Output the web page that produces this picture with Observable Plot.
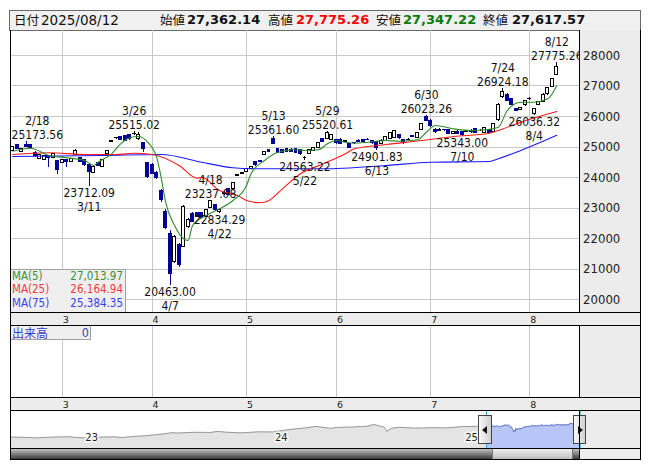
<!DOCTYPE html>
<html><head><meta charset="utf-8">
<script src="https://cdn.jsdelivr.net/npm/d3@7"></script>
<script src="https://cdn.jsdelivr.net/npm/@observablehq/plot@0.6"></script>
<style>
body{margin:0;background:#fff;}
#root{position:relative;width:653px;height:470px;overflow:hidden;font-family:"DejaVu Sans Condensed","Liberation Sans",sans-serif;}
#root > *{position:absolute;}
.hl{font-family:"Noto Sans CJK JP",sans-serif;font-size:12.5px;color:#111;}
.hv{font-family:"DejaVu Sans",sans-serif;font-size:13px;font-weight:bold;}
</style></head><body><div id="root"></div>
<script>
// ---------------- data ----------------
const dates = ["2025-02-13","2025-02-14","2025-02-17","2025-02-18","2025-02-19","2025-02-20","2025-02-21","2025-02-25","2025-02-26","2025-02-27","2025-02-28",
"2025-03-03","2025-03-04","2025-03-05","2025-03-06","2025-03-07","2025-03-10","2025-03-11","2025-03-12","2025-03-13","2025-03-14","2025-03-17","2025-03-18","2025-03-19","2025-03-21","2025-03-24","2025-03-25","2025-03-26","2025-03-27","2025-03-28","2025-03-31",
"2025-04-01","2025-04-02","2025-04-03","2025-04-04","2025-04-07","2025-04-08","2025-04-09","2025-04-10","2025-04-11","2025-04-14","2025-04-15","2025-04-16","2025-04-17","2025-04-18","2025-04-21","2025-04-22","2025-04-23","2025-04-24","2025-04-25","2025-04-28","2025-04-30",
"2025-05-01","2025-05-02","2025-05-07","2025-05-08","2025-05-09","2025-05-12","2025-05-13","2025-05-14","2025-05-15","2025-05-16","2025-05-19","2025-05-20","2025-05-21","2025-05-22","2025-05-23","2025-05-26","2025-05-27","2025-05-28","2025-05-29","2025-05-30",
"2025-06-02","2025-06-03","2025-06-04","2025-06-05","2025-06-06","2025-06-09","2025-06-10","2025-06-11","2025-06-12","2025-06-13","2025-06-16","2025-06-17","2025-06-18","2025-06-19","2025-06-20","2025-06-23","2025-06-24","2025-06-25","2025-06-26","2025-06-27","2025-06-30",
"2025-07-01","2025-07-02","2025-07-03","2025-07-04","2025-07-07","2025-07-08","2025-07-09","2025-07-10","2025-07-11","2025-07-14","2025-07-15","2025-07-16","2025-07-17","2025-07-18","2025-07-22","2025-07-23","2025-07-24","2025-07-25","2025-07-28","2025-07-29","2025-07-30","2025-07-31",
"2025-08-01","2025-08-04","2025-08-05","2025-08-06","2025-08-07","2025-08-08","2025-08-12"];

const opens = [24866,25073,24855,25063,25052,24812,24615,24583,24692,24648,24539,
24484,24583,24506,24746,24648,24561,24400,24150,24470,24343,24779,25180,25290,25320,25360,25380,25420,25250,25140,24485,
24398,24147,23547,22889,22161,21234,21780,21725,22380,22816,22848,22848,22707,23001,23089,22860,23470,23634,23634,24050,24130,
24178,24289,24505,24530,24747,24911,25271,24943,24890,24943,24900,24943,24900,24640,24780,24867,24976,25270,25270,25238,
25238,25238,25180,25107,25130,25215,25240,25240,25215,25160,25107,25200,25270,25300,25410,25238,25230,25350,25300,25565,25980,
25870,25560,25540,25560,25560,25430,25510,25480,25510,25530,25600,25540,25470,25560,25490,25871,26634,26711,26580,26252,26210,26362,
26570,26067,26394,26470,26722,26962,27362.14];
const highs = [25020,25100,24965,25173.56,25090,24850,24770,24720,24720,24800,24560,
24580,24600,24610,24910,24660,24580,24440,24380,24500,24600,24900,25230,25330,25360,25380,25420,25515.02,25467,25150,24510,
24460,24200,23600,22950,22270,22100,21850,23089,22650,22850,22870,22860,22940,23237.08,23110,22960,23560,23660,23840,24100,24170,
24300,24380,24540,24560,24850,24930,25361.60,24960,24910,24960,24950,24960,24920,24700,24900,24990,25150,25290,25520.61,25420,
25260,25270,25200,25120,25150,25240,25260,25270,25230,25180,25250,25330,25470,25530,25420,25250,25270,25380,25470,25780,26023.26,
25900,25600,25600,25590,25580,25520,25530,25500,25540,25560,25620,25560,25640,25580,25780,26420,26924.18,26740,26600,26270,26300,26520,
26620,26270,26490,26740,26960,27250,27775.26];
const lows = [24840,24930,24840,24980,24960,24650,24600,24560,24343,24630,24103,
24470,24343,24490,24730,24490,24380,23712.09,24130,24350,24330,24770,25150,25250,25200,25190,25230,25380,25216,24812,23960,
24100,23950,23200,22288,20463.00,21200,21070,21700,22330,22520,22690,22660,22690,22980,22900,22834.29,23420,23400,23610,24030,24100,
24160,24270,24380,24480,24720,24820,25090,24790,24780,24820,24820,24790,24740,24563.22,24760,24850,24960,25150,25250,25220,
25100,25090,25150,24960,25090,25150,25150,25200,25100,24901.83,25090,25180,25260,25280,25260,25100,25200,25320,25290,25550,25840,
25650,25460,25520,25520,25420,25410,25400,25343.00,25480,25460,25460,25510,25460,25450,25470,25850,26600,26500,26380,26150,26190,26340,
26540,26036.32,26380,26450,26700,26940,27347.22];
const closes = [24997,24943,24943,24997,24975,24692,24746,24703,24637,24779,24234,
24561,24506,24594,24866,24506,24397,24180,24364,24390,24583,24888,25190,25300,25230,25200,25250,25440,25401,24943,24016,
24125,23983,23252,22343,20852,22052,21125,23034,22598,22543,22707,22674,22925,23220,22925,22925,23500,23415,23817,24070,24145,
24289,24364,24397,24500,24832,24840,25107,24801,24810,24834,24850,24801,24758,24655,24889,24976,25140,25160,25456,25380,
25128,25107,25190,24976,25120,25160,25180,25230,25128,24976,25215,25320,25450,25520,25300,25130,25240,25345,25450,25760,25850,
25674,25500,25570,25550,25430,25500,25430,25400,25520,25480,25470,25540,25630,25460,25760,26362,26798,26525,26394,26176,26270,26503,
26590,26252,26470,26700,26940,27234,27617.57];

// moving averages (sample points)
const ma5Dates = ["2025-02-13","2025-02-19","2025-02-26","2025-03-04","2025-03-10","2025-03-12","2025-03-13","2025-03-18","2025-03-21","2025-03-25","2025-03-27","2025-03-31","2025-04-02","2025-04-03","2025-04-04","2025-04-08","2025-04-10","2025-04-11","2025-04-14","2025-04-17","2025-04-22","2025-04-25","2025-05-01","2025-05-02","2025-05-09","2025-05-14","2025-05-20","2025-05-22","2025-05-27","2025-05-29","2025-06-02","2025-06-04","2025-06-06","2025-06-11","2025-06-17","2025-06-20","2025-06-26","2025-06-30","2025-07-02","2025-07-08","2025-07-14","2025-07-17","2025-07-23","2025-07-25","2025-07-30","2025-08-04","2025-08-07","2025-08-08","2025-08-12"];
const ma5Values = [24865,24963,24724,24649,24561,24397,24505,24780,25107,25304,25346,25160,24669,24014,23195,22433,21997,21941,22433,22760,22979,23251,23742,24125,24561,24832,24911,24888,24911,25107,25215,25160,25127,25160,25215,25193,25238,25487,25706,25598,25543,25566,25651,26198,26469,26469,26581,26745,27013.97];
const ma25Dates = ["2025-02-13","2025-02-26","2025-03-10","2025-03-19","2025-03-26","2025-04-01","2025-04-09","2025-04-15","2025-04-16","2025-04-22","2025-04-28","2025-05-01","2025-05-08","2025-05-12","2025-05-15","2025-05-21","2025-05-28","2025-06-04","2025-06-06","2025-06-17","2025-06-27","2025-07-08","2025-07-18","2025-07-23","2025-07-30","2025-08-12"];
const ma25Values = [24757,24812,24757,24757,24800,24757,24397,23981,24014,23578,23415,23251,23176,23251,23634,24125,24450,24780,24944,25085,25215,25346,25455,25543,25815,26164.94];
const ma75Dates = ["2025-02-13","2025-03-14","2025-04-03","2025-04-16","2025-04-25","2025-05-02","2025-05-28","2025-06-17","2025-07-01","2025-07-18","2025-07-23","2025-07-30","2025-08-12"];
const ma75Values = [24692,24724,24757,24505,24322,24289,24289,24397,24505,24528,24616,24888,25384.35];

// labelled highs / lows
const extDates = ["2025-02-18","2025-03-11","2025-03-26","2025-04-07","2025-04-18","2025-04-22","2025-05-13","2025-05-22","2025-05-29","2025-06-13","2025-06-30","2025-07-10","2025-07-24","2025-08-04","2025-08-12"];
const extKinds = ["H","L","H","L","H","L","H","L","H","L","H","L","H","L","H"];
const extValues = [25173.56,23712.09,25515.02,20463.00,23237.08,22834.29,25361.60,24563.22,25520.61,24901.83,26023.26,25343.00,26924.18,26036.32,27775.26];

// axes
const priceTicks = [20000,21000,22000,23000,24000,25000,26000,27000,28000];
const monthStarts = ["2025-03-03","2025-04-01","2025-05-01","2025-06-02","2025-07-01","2025-08-01"];
const monthLabels = ["3","4","5","6","7","8"];

// navigator (long history, read from the overview strip)
const navDates = ["2022-08-12","2022-09-01","2022-09-30","2022-10-31","2022-11-30","2022-12-20","2023-01-04","2023-01-31","2023-02-28","2023-03-15","2023-03-31","2023-04-28","2023-05-31","2023-06-19","2023-06-30","2023-07-31","2023-08-31","2023-09-15","2023-09-29","2023-10-31","2023-11-30","2023-12-29","2024-01-31","2024-02-29","2024-03-22","2024-04-19","2024-04-30","2024-05-31","2024-06-28","2024-07-11","2024-07-31","2024-08-05","2024-08-15","2024-08-30","2024-09-30","2024-10-31","2024-11-29","2024-12-30","2025-01-31","2025-02-12"];
const navValues = [17300,17100,16700,17200,17500,16900,16700,17200,17400,16900,17500,18100,19300,20200,20000,20500,20400,21100,20600,20100,20800,20700,22400,23400,24500,23200,23800,24100,24600,25800,24000,21200,23300,23900,23300,23600,23500,24400,24600,24700];
const navYearDates = ["2023-01-01","2024-01-01","2025-01-01"];
const navYearLabels = ["23","24","25"];

// header
const headerDate = "2025/08/12";
const headerNames = ["始値","高値","安値","終値"];
const headerValues = ["27,362.14","27,775.26","27,347.22","27,617.57"];
const maNames = ["MA(5)","MA(25)","MA(75)"];
const maLatest = ["27,013.97","26,164.94","25,384.35"];
const volumeName = "出来高";
const volumeLatest = "0";

// ---------------- build ----------------
const root = document.getElementById("root");
function box(l, t, w, h, css) {
  const d = document.createElement("div");
  d.style.cssText = `left:${l}px;top:${t}px;width:${w}px;height:${h}px;box-sizing:border-box;` + (css || "");
  root.appendChild(d); return d;
}
function txt(l, t, s, cls, css) {
  const d = document.createElement("div");
  d.className = cls || ""; d.textContent = s;
  d.style.cssText = `left:${l}px;top:${t}px;white-space:nowrap;` + (css || "");
  root.appendChild(d); return d;
}

const LABEL_FONT = '"DejaVu Sans Condensed","Liberation Sans",sans-serif';
const rows = dates.map((d, i) => ({i, date: d, open: opens[i], high: highs[i], low: lows[i], close: closes[i]}));
const idx = d => dates.indexOf(d);
const UP = "#000000", DOWN = "#000096";
const xDomain = [-0.498, 126.19];

// panel backgrounds
box(9, 10, 632, 21, "background:#f0f0f0;border:1px solid #6a6a6a;");
box(580, 30, 60, 282, "background:#ececec;");
box(10, 312, 631, 14, "background:#ececec;");
box(580, 325, 60, 72, "background:#ececec;");
box(10, 397, 631, 14, "background:#ececec;");
box(580, 410, 60, 49, "background:#ececec;");

// header text
txt(14, 11, "日付", "hl", "line-height:18px;");
txt(41, 11, headerDate, "", "font-family:'DejaVu Sans',sans-serif;font-size:13.5px;line-height:18px;color:#111;");
const hPos = [[160,187],[268,296],[376,403],[483,512]];
const hCol = ["#111","#ff0000","#0a7a0a","#111"];
headerNames.forEach((n, k) => {
  txt(hPos[k][0], 11, n, "hl", "line-height:18px;");
  txt(hPos[k][1], 11, headerValues[k], "hv", `line-height:18px;color:${hCol[k]};`);
});

// main price chart
const maPts = (ds, vs) => ds.map((d, k) => ({i: idx(d), v: vs[k]}));
const ext = extDates.map((d, k) => {
  const [, m, dd] = d.split("-");
  const valueLabel = extValues[k].toFixed(2);
  const dateLabel = `${+m}/${+dd}`;
  const halfIdx = valueLabel.length * 6.7 / 2 / 4.496;
  const i = idx(d);
  const kind = extKinds[k];
  return {i, lx: Math.max(i, xDomain[0] + halfIdx), v: extValues[k], kind,
          label: kind === "H" ? `${dateLabel}\n${valueLabel}` : `${valueLabel}\n${dateLabel}`};
});
const hi = ext.filter(e => e.kind === "H"), lo = ext.filter(e => e.kind === "L");
const tStyle = {fontSize: 12, lineHeight: 1.17, fill: "#111", clip: true, fontFamily: LABEL_FONT};

const main = Plot.plot({
  width: 630, height: 282,
  marginLeft: 0, marginRight: 60.4, marginTop: 0, marginBottom: 0,
  style: {background: "transparent", overflow: "visible", fontFamily: LABEL_FONT},
  x: {type: "linear", domain: xDomain, axis: null},
  y: {domain: [19584, 28817], axis: null},
  color: {type: "identity"},
  marks: [
    Plot.ruleY(priceTicks, {stroke: "#c8c8c8", shapeRendering: "crispEdges"}),
    Plot.ruleX(monthStarts.map(idx), {stroke: "#c8c8c8", shapeRendering: "crispEdges"}),
    Plot.ruleX(rows, {x: "i", y1: "low", y2: "high", stroke: d => d.close >= d.open ? UP : DOWN, shapeRendering: "crispEdges", clip: true}),
    Plot.rect(rows, {x1: d => d.i - 0.33, x2: d => d.i + 0.33, y1: "open", y2: "close",
      fill: d => d.close >= d.open ? "#ffffff" : DOWN, stroke: d => d.close >= d.open ? UP : DOWN,
      strokeWidth: 1, shapeRendering: "crispEdges", clip: true}),
    Plot.line(maPts(ma75Dates, ma75Values), {x: "i", y: "v", stroke: "#1a1aff", strokeWidth: 1.1, curve: "monotone-x", clip: true}),
    Plot.line(maPts(ma25Dates, ma25Values), {x: "i", y: "v", stroke: "#ff1a1a", strokeWidth: 1.1, curve: "monotone-x", clip: true}),
    Plot.line(maPts(ma5Dates, ma5Values), {x: "i", y: "v", stroke: "#2e8b2e", strokeWidth: 1.1, curve: "monotone-x", clip: true}),
    Plot.text(hi, {x: "lx", y: "v", text: "label", lineAnchor: "middle", dy: -14, ...tStyle}),
    Plot.text(lo, {x: "lx", y: "v", text: "label", lineAnchor: "middle", dy: 13, ...tStyle}),
    Plot.axisY(priceTicks, {anchor: "right", tickSize: 0, tickPadding: 3, fontSize: 13, fill: "#222", tickFormat: d => String(d), fontFamily: LABEL_FONT})
  ]
});
main.style.left = "10px"; main.style.top = "30px"; main.style.position = "absolute";
root.appendChild(main);

// MA legend box
box(10, 269, 116, 43, "background:#efefef;border-top:1px solid #a0a0a0;border-right:1px solid #a0a0a0;");
const maCol = ["#3b8f3b", "#f23c3c", "#3c3cf2"];
maNames.forEach((n, k) => {
  const t = 270 + k * 13.4;
  txt(12, t, n, "", `font-size:11.5px;line-height:13px;height:13px;color:${maCol[k]};font-family:${LABEL_FONT};`);
  txt(0, t, maLatest[k], "", `font-size:11.5px;line-height:13px;height:13px;color:${maCol[k]};font-family:${LABEL_FONT};width:123px;text-align:right;`);
});

// month axis bands
function monthBand(top) {
  const p = Plot.plot({
    width: 630, height: 13, marginLeft: 0, marginRight: 60.4, marginTop: 0, marginBottom: 0,
    style: {background: "transparent", overflow: "visible"},
    x: {type: "linear", domain: xDomain, axis: null}, y: {axis: null},
    marks: [Plot.text(monthStarts.map((d, k) => ({i: idx(d), label: monthLabels[k]})),
      {x: "i", text: "label", frameAnchor: "middle", dx: 3.5, dy: 0.5, fontSize: 9.5, fill: "#222", fontFamily: "'DejaVu Sans',sans-serif"})]
  });
  p.style.left = "10px"; p.style.top = top + "px"; p.style.position = "absolute";
  root.appendChild(p);
}
monthBand(312);

// volume panel
const vol = Plot.plot({
  width: 630, height: 72, marginLeft: 0, marginRight: 60.4, marginTop: 0, marginBottom: 0,
  style: {background: "transparent"},
  x: {type: "linear", domain: xDomain, axis: null}, y: {axis: null},
  marks: [Plot.ruleX(monthStarts.map(idx), {stroke: "#c8c8c8", shapeRendering: "crispEdges"})]
});
vol.style.left = "10px"; vol.style.top = "325px"; vol.style.position = "absolute";
root.appendChild(vol);
box(10, 325, 81, 15, "background:#efefef;border-right:1px solid #a0a0a0;border-bottom:1px solid #a0a0a0;");
txt(12, 325, volumeName, "", "font-family:'Noto Sans CJK JP',sans-serif;font-size:12px;line-height:15px;color:#3a3ad0;");
txt(0, 325, volumeLatest, "", `font-size:12.5px;line-height:15px;color:#3a3ad0;width:89px;text-align:right;font-family:${LABEL_FONT};`);

monthBand(397);

// navigator
const selRows = rows.map(r => ({date: new Date(r.date), v: r.close}));
const navRows = navDates.map((d, k) => ({date: new Date(d), v: navValues[k]})).concat(selRows);
const nav = Plot.plot({
  width: 630, height: 38, marginLeft: 0, marginRight: 60.4, marginTop: 0, marginBottom: 0,
  style: {background: "transparent"},
  x: {type: "utc", domain: [new Date("2022-08-12"), new Date("2025-08-12")], axis: null},
  y: {domain: [9500, 35300], axis: null},
  marks: [
    Plot.areaY(navRows, {x: "date", y: "v", fill: "#e4e4e4"}),
    Plot.lineY(navRows, {x: "date", y: "v", stroke: "#9a9a9a", strokeWidth: 1}),
    Plot.areaY(selRows, {x: "date", y: "v", fill: "#b7c6f7"}),
    Plot.lineY(selRows, {x: "date", y: "v", stroke: "#6673cf", strokeWidth: 1}),
    Plot.ruleX([selRows[0].date, selRows[selRows.length - 1].date], {stroke: "#2ba3e0"}),
    Plot.text(navYearDates.map((d, k) => ({date: new Date(d), label: navYearLabels[k]})),
      {x: "date", text: "label", frameAnchor: "bottom", textAnchor: "start", dx: 1, dy: -8, fontSize: 10, fill: "#222",
       stroke: "white", strokeWidth: 3, paintOrder: "stroke", fontFamily: "'DejaVu Sans',sans-serif"})
  ]
});
nav.style.left = "10px"; nav.style.top = "410px"; nav.style.position = "absolute";
root.appendChild(nav);

// navigator handles
const hCss = "background:linear-gradient(to right,#fafafa,#cfcfcf);border:1px solid #444;";
const h1 = box(478, 415, 14, 29, hCss);
const h2 = box(573, 415, 13, 29, hCss);
const tri = (parent, dir) => {
  const t = document.createElement("div");
  t.style.cssText = "position:absolute;top:10px;width:0;height:0;border-top:4px solid transparent;border-bottom:4px solid transparent;" +
    (dir < 0 ? "left:3px;border-right:5px solid #111;" : "left:4px;border-left:5px solid #111;");
  parent.appendChild(t);
};
tri(h1, -1); tri(h2, 1);

// scrollbar
box(10, 448, 570, 11, "background:linear-gradient(#d0d0d0,#3a3a3a);");
box(492, 448, 81, 11, "background:linear-gradient(#f4f4f4,#bdbdbd);border-left:1px solid #777;border-right:1px solid #777;");

// frame lines
const line = (l, t, w, h) => box(l, t, w, h, "background:#000;");
[312, 325, 397, 410, 448, 459].forEach(y => line(10, y, 631, 1));
line(10, 30, 1, 430);
line(640, 30, 1, 430);
line(579, 30, 1, 282);
line(579, 325, 1, 72);
line(579, 410, 1, 49);
</script></body></html>
